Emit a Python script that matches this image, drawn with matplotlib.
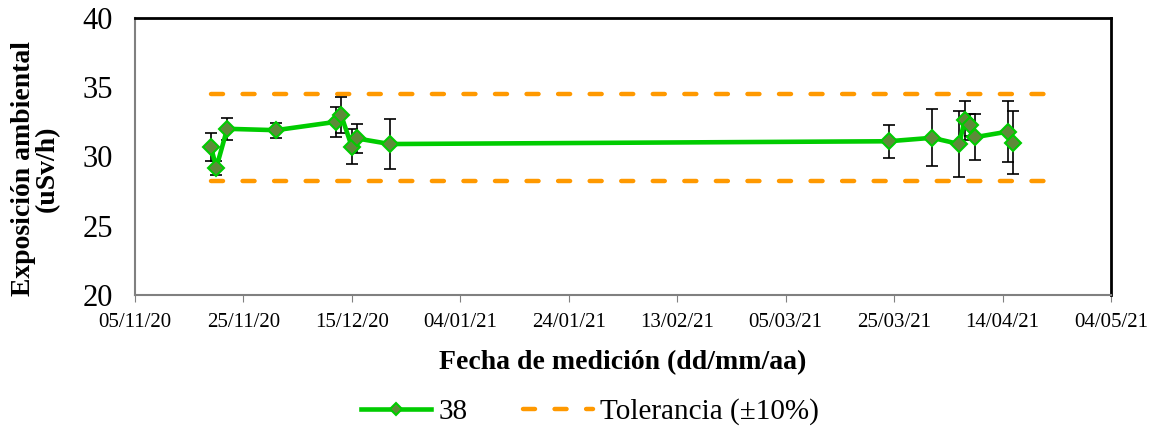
import numpy as np
import pandas as pd
import matplotlib
matplotlib.use('Agg')
import matplotlib.pyplot as plt
import matplotlib.dates as mdates

plt.rcParams['font.family'] = ['Liberation Serif', 'DejaVu Serif']

fechas = ['2020-11-19', '2020-11-20', '2020-11-22', '2020-12-01', '2020-12-12',
          '2020-12-13', '2020-12-15', '2020-12-16', '2020-12-22', '2021-03-24',
          '2021-04-01', '2021-04-06', '2021-04-07', '2021-04-08', '2021-04-09',
          '2021-04-15', '2021-04-16']
exposicion = [30.7, 29.2, 32.0, 31.9, 32.5, 33.0, 30.7, 31.3, 30.9, 31.1,
              31.35, 30.9, 32.6, 32.25, 31.4, 31.8, 31.0]
error = [1.0, 0.5, 0.8, 0.55, 1.1, 1.3, 1.25, 1.05, 1.8, 1.2,
         2.05, 2.4, 1.4, 0.8, 1.65, 2.2, 2.25]

tol_fechas = ['2020-11-19', '2021-04-23']
tol_sup = 34.5
tol_inf = 28.25

x = pd.to_datetime(fechas)
xt = pd.to_datetime(tol_fechas)

fig = plt.figure(figsize=(11.58, 4.29), dpi=100)
ax = fig.add_axes([135/1158, 1 - 295/429, (1111 - 135)/1158, (295 - 18)/429])

ax.errorbar(x, exposicion, yerr=error, fmt='none', ecolor='black',
            elinewidth=1.2, capsize=4, capthick=1.2, zorder=2)
ax.plot(x, exposicion, color='#00CC00', lw=3.3, marker='D', ms=8.5,
        mfc='#5E8A3A', mec='#00CC00', mew=1.5, label='38', zorder=3)
ax.plot(xt, [tol_sup, tol_sup], color='#FF9900', lw=3.2, ls=(0, (2.7, 4.4)),
        dash_capstyle='round', label='Tolerancia (±10%)', zorder=1)
ax.plot(xt, [tol_inf, tol_inf], color='#FF9900', lw=3.2, ls=(0, (2.7, 4.4)),
        dash_capstyle='round', zorder=1)

ax.set_xlim(pd.Timestamp('2020-11-05'), pd.Timestamp('2021-05-04'))
ax.set_ylim(20, 40)
ax.set_yticks([20, 25, 30, 35, 40])
ticks = pd.date_range('2020-11-05', '2021-05-04', freq='20D')
ax.set_xticks(ticks)
ax.xaxis.set_major_formatter(mdates.DateFormatter('%d/%m/%y'))

ax.tick_params(axis='y', length=0, labelsize=22, pad=16)
ax.tick_params(axis='x', length=5, color='#808080', labelsize=15, pad=8)

for s in ['left', 'bottom']:
    ax.spines[s].set_color('#808080')
    ax.spines[s].set_linewidth(1.5)
for s in ['top', 'right']:
    ax.spines[s].set_color('black')
    ax.spines[s].set_linewidth(2)

ax.set_xlabel('Fecha de medición (dd/mm/aa)', fontsize=20, fontweight='bold')
ax.xaxis.set_label_coords(0.5, -0.2)
ax.set_ylabel('Exposición ambiental\n(uSv/h)', fontsize=20, fontweight='bold',
              linespacing=0.95)
ax.yaxis.set_label_coords(-0.077, 0.455)

fig.legend(*ax.get_legend_handles_labels(), loc='center',
           bbox_to_anchor=(590/1158, 1 - 412/429), ncol=2, frameon=False,
           fontsize=21, handlelength=2.4, columnspacing=1.9, handletextpad=0.25,
           markerscale=0.75)

fig.savefig('out.png', dpi=100)
